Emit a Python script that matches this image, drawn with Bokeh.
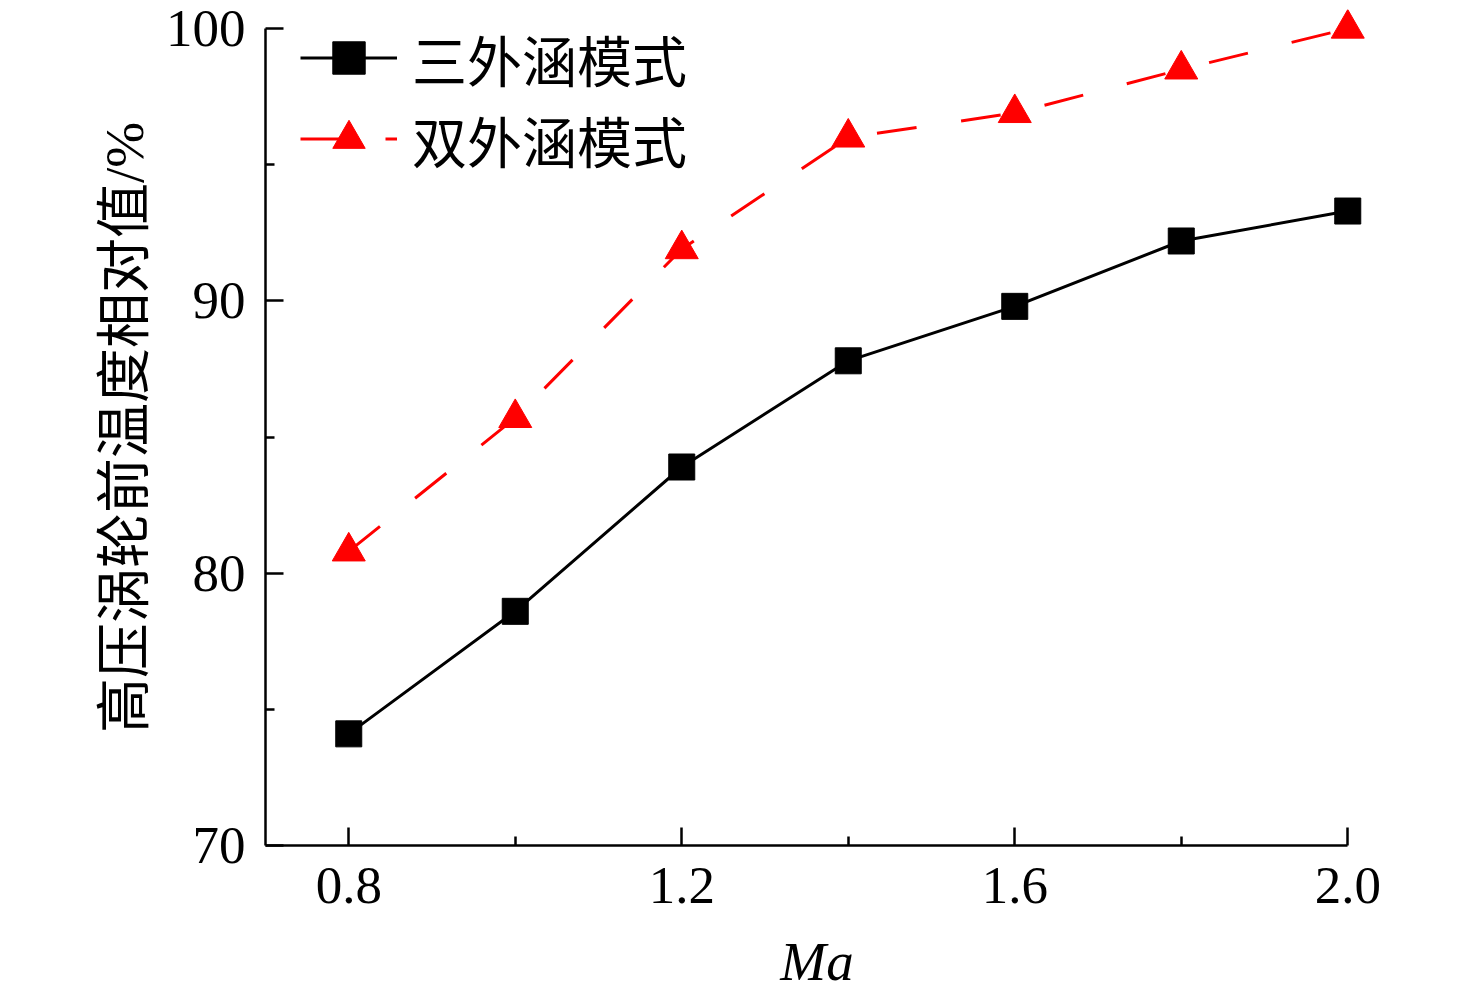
from bokeh.plotting import figure
from bokeh.models import Range1d, FixedTicker, Legend, LegendItem, CustomJSTickFormatter
from bokeh.embed import file_html
from bokeh.resources import INLINE

# ---- data ----
mach = [0.8, 1.0, 1.2, 1.4, 1.6, 1.8, 2.0]
three_bypass = [74.1, 78.6, 83.9, 87.8, 89.8, 92.2, 93.3]
double_bypass = [80.8, 85.7, 91.9, 96.0, 96.9, 98.5, 100.0]
series_names = ["三外涵模式", "双外涵模式"]
x_major = [0.8, 1.2, 1.6, 2.0]
x_minor = [1.0, 1.4, 1.8]
y_major = [70, 80, 90, 100]
y_minor = [75, 85, 95]
x_label = "Ma"
y_label = "高压涡轮前温度相对值/%"

X0, X1 = 0.7, 2.0
Y0, Y1 = 70, 100
PX_X = 832.5      # pixels per unit of Ma
PX_Y = 27.23      # pixels per percent
FW, FH = 1103, 836
x_end = X0 + FW / PX_X
y_end = Y0 + FH / PX_Y

SERIF = "Liberation Serif"
CJK = "Liberation Serif, Noto Sans CJK SC"

p = figure(frame_width=FW, frame_height=FH,
           x_range=Range1d(X0, x_end), y_range=Range1d(Y0, y_end),
           output_backend="svg", toolbar_location=None,
           min_border_left=265, min_border_right=100,
           min_border_top=9, min_border_bottom=148)
p.outline_line_color = None
p.background_fill_color = "white"
p.xgrid.visible = False
p.ygrid.visible = False

for ax in (p.xaxis[0], p.yaxis[0]):
    ax.axis_line_width = 2.5
    ax.major_tick_line_width = 2.5
    ax.minor_tick_line_width = 2.5
    ax.major_tick_in = 18
    ax.major_tick_out = 0
    ax.minor_tick_in = 9
    ax.minor_tick_out = 0
    ax.major_label_text_font = SERIF
    ax.major_label_text_font_size = "53px"
    ax.major_label_text_color = "black"
    ax.axis_line_color = "black"
    ax.major_tick_line_color = "black"
    ax.minor_tick_line_color = "black"

p.xaxis[0].ticker = FixedTicker(ticks=x_major, minor_ticks=x_minor)
p.yaxis[0].ticker = FixedTicker(ticks=y_major, minor_ticks=y_minor)
p.xaxis[0].bounds = (X0, X1)
p.yaxis[0].bounds = (Y0, Y1)
p.xaxis[0].major_label_standoff = 22
p.yaxis[0].major_label_standoff = 20
p.xaxis[0].formatter = CustomJSTickFormatter(code="return tick.toFixed(1);")

p.xaxis[0].axis_label = x_label
p.xaxis[0].axis_label_text_font = SERIF
p.xaxis[0].axis_label_text_font_size = "55px"
p.xaxis[0].axis_label_text_font_style = "italic"
p.xaxis[0].axis_label_text_color = "black"
p.xaxis[0].axis_label_standoff = 25

p.yaxis[0].axis_label = y_label
p.yaxis[0].axis_label_text_font = CJK
p.yaxis[0].axis_label_text_font_size = "55px"
p.yaxis[0].axis_label_text_font_style = "normal"
p.yaxis[0].axis_label_text_color = "black"
p.yaxis[0].axis_label_standoff = 8

l1 = p.line(mach, three_bypass, line_color="black", line_width=3)
m1 = p.scatter(mach, three_bypass, marker="square", size=26,
               fill_color="black", line_color="black")
l2 = p.line(mach, double_bypass, line_color="#ff0000", line_width=3, line_dash="40 45")
m2 = p.scatter(mach, double_bypass, marker="triangle", size=33,
               fill_color="#ff0000", line_color="#ff0000")

legend = Legend(items=[LegendItem(label=series_names[0], renderers=[l1, m1]),
                       LegendItem(label=series_names[1], renderers=[l2, m2])],
                location=(35, 666), glyph_width=97, glyph_height=81,
                label_height=81, spacing=0, padding=0, margin=0,
                label_standoff=15, label_text_font=CJK,
                label_text_font_size="55px", label_text_color="black",
                border_line_color=None, background_fill_alpha=0)
p.add_layout(legend)

open("out.html", "w").write(file_html(p, INLINE))
